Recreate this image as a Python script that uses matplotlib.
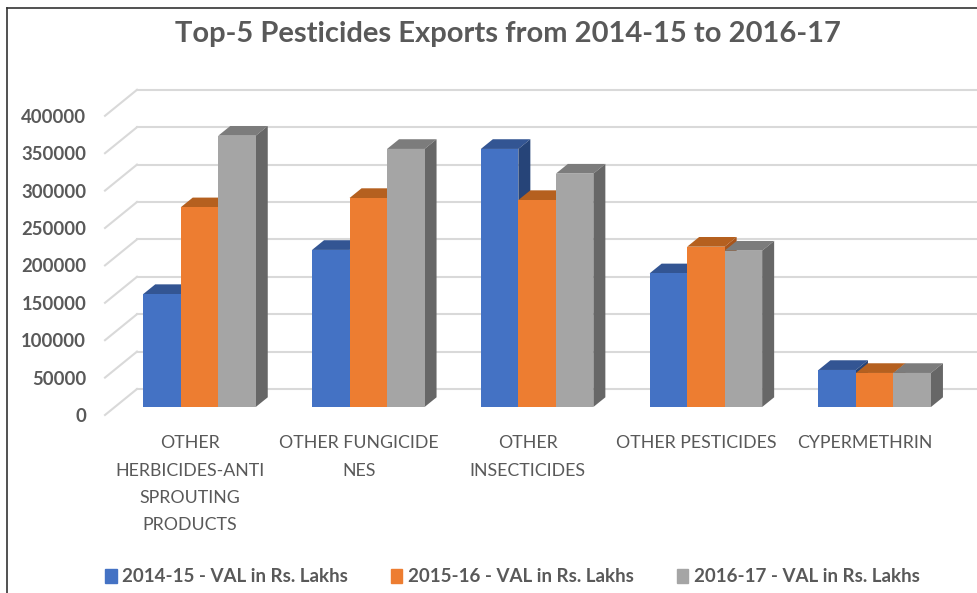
import matplotlib
matplotlib.use('Agg')
import matplotlib.pyplot as plt
from matplotlib.lines import Line2D
from matplotlib.patches import Patch

categories = ['OTHER\nHERBICIDES-ANTI\nSPROUTING\nPRODUCTS', 'OTHER FUNGICIDE\nNES', 'OTHER\nINSECTICIDES',
              'OTHER PESTICIDES', 'CYPERMETHRIN']
series_names = ['2014-15 - VAL in Rs. Lakhs', '2015-16 - VAL in Rs. Lakhs', '2016-17 - VAL in Rs. Lakhs']
vals_2014 = [151000, 210000, 345000, 178700, 49500]
vals_2015 = [267000, 279400, 276700, 214300, 45500]
vals_2016 = [362700, 345000, 312000, 209000, 45500]
y_ticks = [0, 50000, 100000, 150000, 200000, 250000, 300000, 350000, 400000]

front_colors = ['#4472C4', '#ED7D31', '#A5A5A5']
top_colors = ['#335593', '#B5601F', '#7C7C7C']
side_colors = ['#264478', '#A9551B', '#676767']
text_color = '#595959'
grid_color = '#D9D9D9'

# pixel sizes of the sketch, everything below is converted to data units
W, H = 978, 593
group_px = 168.8
tick_px = 37.4
units_per_px = 50000 / tick_px
bar_w = 37.5 / group_px
depth_x = 12 / group_px
depth_y = 9.7 * units_per_px
wall_x = 32 / group_px
wall_front = -8 * units_per_px
wall_back = 18 * units_per_px

fig = plt.figure(figsize=(W / 100, H / 100), dpi=100)
plt.rcParams['font.family'] = ['Lato', 'DejaVu Sans']
ax = fig.add_axes([105 / W, 1 - 415 / H, (W - 105) / W, (415 - 89) / H])
x0 = (105 - 199.5) / group_px
ax.set_xlim(x0, x0 + (W - 105) / group_px)
ax.set_ylim(wall_front, wall_front + (415 - 89) * units_per_px)

# walls of the 3d box
for t in y_ticks:
    ax.plot([x0, x0 + wall_x], [t + wall_front, t + wall_back], color=grid_color, lw=1.5, zorder=1, clip_on=False)
    ax.plot([x0 + wall_x, ax.get_xlim()[1]], [t + wall_back, t + wall_back], color=grid_color, lw=1.5, zorder=1, clip_on=False)

# bars: front face with ax.bar, then top and side polygons
all_vals = [vals_2014, vals_2015, vals_2016]
for i in range(len(categories)):
    for s, vals in enumerate(all_vals):
        v = vals[i]
        left = i + (s - 1.5) * bar_w
        right = left + bar_w
        z = 2 + i + s * 0.1
        ax.fill([left, left + depth_x, right + depth_x, right], [v, v + depth_y, v + depth_y, v],
                color=top_colors[s], lw=0, zorder=z, clip_on=False)
        ax.fill([right, right + depth_x, right + depth_x, right], [v, v + depth_y, depth_y, 0],
                color=side_colors[s], lw=0, zorder=z, clip_on=False)
        ax.bar(left, v, width=bar_w, align='edge', color=front_colors[s], lw=0, zorder=z)

for sp in ax.spines.values():
    sp.set_visible(False)
ax.patch.set_visible(False)

ax.set_yticks([t + wall_front for t in y_ticks])
ax.set_yticklabels([str(t) for t in y_ticks], fontsize=13.3, fontweight='bold', color=text_color)
ax.tick_params(axis='y', length=0, pad=13.5)
ax.set_xticks([i - 9.5 / group_px for i in range(len(categories))])
ax.set_xticklabels(categories, fontsize=12.8, color=text_color, linespacing=1.88, va='top')
ax.tick_params(axis='x', length=0, pad=14.5)

fig.text(508 / W, 1 - 34 / H, 'Top-5 Pesticides Exports from 2014-15 to 2016-17', ha='center', va='center',
         fontsize=21, fontweight='bold', color=text_color)

handles = [Patch(color=c, label=n) for c, n in zip(front_colors, series_names)]
fig.legend(handles=handles, loc='center', bbox_to_anchor=(512.5 / W, 1 - 577 / H), ncol=3, frameon=False,
           prop={'size': 13.5, 'weight': 'bold'}, labelcolor=text_color, handlelength=0.6, handleheight=0.7,
           handletextpad=0.3, columnspacing=2.3)

# screenshot border
fig.add_artist(Line2D([7 / W, 7 / W], [0, 1 - 8 / H], color='#333333', lw=1.2))
fig.add_artist(Line2D([7 / W, 1], [1 - 8 / H, 1 - 8 / H], color='#333333', lw=1.2))

fig.savefig('out.png', dpi=100)
